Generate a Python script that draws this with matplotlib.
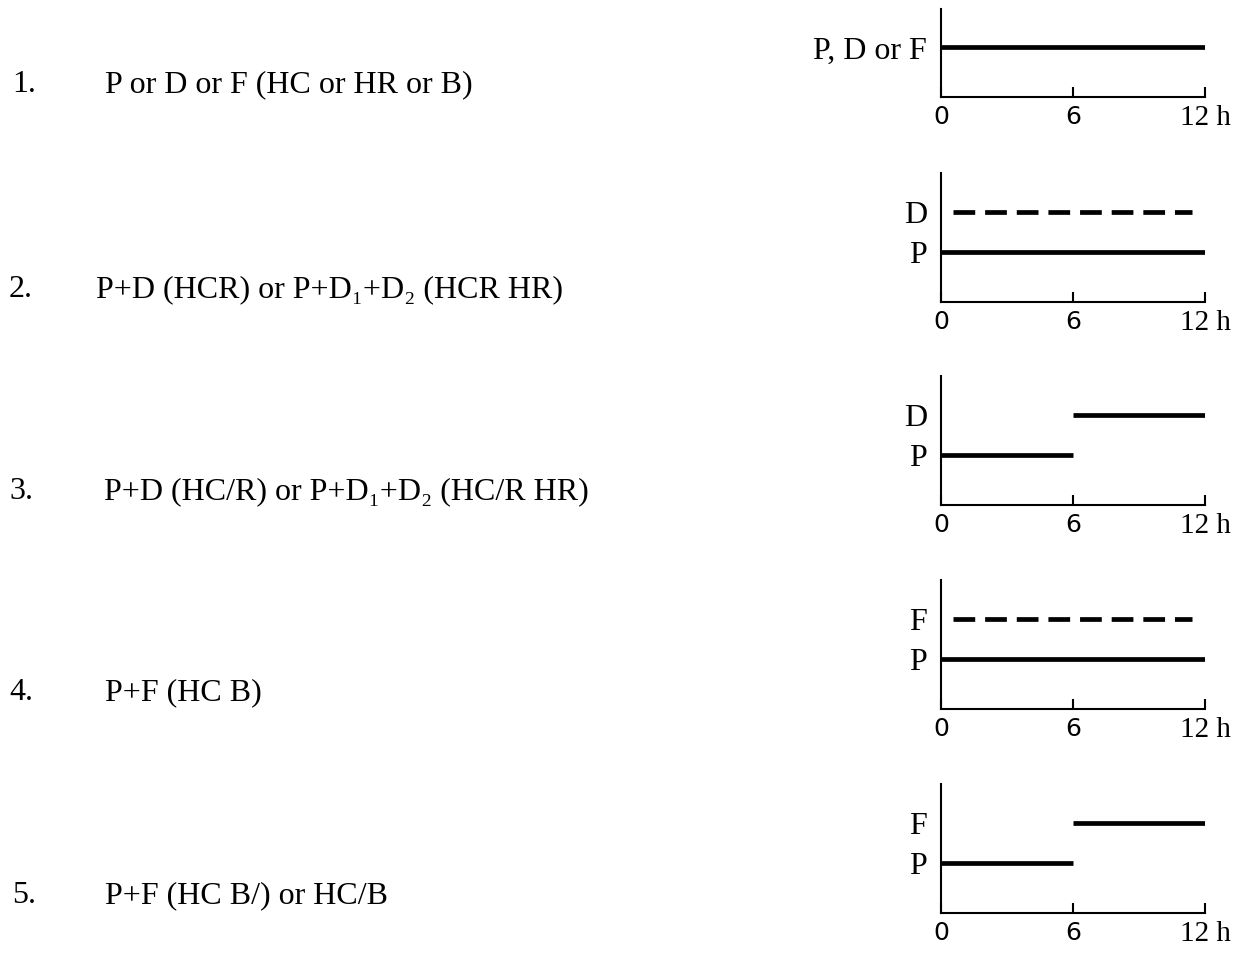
import matplotlib
matplotlib.use("Agg")
import matplotlib.pyplot as plt

plt.rcParams['font.family'] = ['Liberation Serif', 'DejaVu Serif']

# row descriptions on the left
row_numbers = ["1.", "2.", "3.", "4.", "5."]
row_texts = [
    "P or D or F (HC or HR or B)",
    "P+D (HCR) or P+D\u2081+D\u2082 (HCR HR)",
    "P+D (HC/R) or P+D\u2081+D\u2082 (HC/R HR)",
    "P+F (HC B)",
    "P+F (HC B/) or HC/B",
]

# time axis (hours)
x_ticks = [0, 6, 12]
x_ticklabels = ["0", "6", "12 h"]

# level of each substance line (fraction of panel height)
level_low = 0.384
level_high = 0.70
panel_ylabels = [["P, D or F"], ["P", "D"], ["P", "D"], ["P", "F"], ["P", "F"]]
panel_levels = [[level_low], [level_low, level_high], [level_low, level_high],
                [level_low, level_high], [level_low, level_high]]

# segments per panel: start hour, end hour, level, dashed?
seg_start = [[0], [0, 0.55], [0, 6], [0, 0.55], [0, 6]]
seg_end = [[12], [12, 11.4], [6, 12], [12, 11.4], [6, 12]]
seg_level = [[level_low], [level_low, level_high], [level_low, level_high],
             [level_low, level_high], [level_low, level_high]]
seg_dashed = [[False], [False, True], [False, False], [False, True], [False, False]]

W, H = 1246, 956
fig = plt.figure(figsize=(W / 100, H / 100), dpi=100)

# layout in pixels
text_base = [92, 297, 499, 700, 903]
num_x = [12, 9, 9, 9, 12]
txt_x = [105, 96, 104, 105, 105]
axis_y = [97, 302, 505, 709, 913]
panel_h = [88, 129, 129, 129, 129]
ax_left, ax_w = 941, 264

for i in range(5):
    fig.text(num_x[i] / W, 1 - text_base[i] / H, row_numbers[i],
             fontsize=23, va='baseline', ha='left')
    fig.text(txt_x[i] / W, 1 - text_base[i] / H, row_texts[i],
             fontsize=23, va='baseline', ha='left')

    ax = fig.add_axes([ax_left / W, 1 - axis_y[i] / H, ax_w / W, panel_h[i] / H])
    ax.set_xlim(0, 12)
    ax.set_ylim(0, panel_h[i] / 129)
    for s in ['top', 'right']:
        ax.spines[s].set_visible(False)
    for s in ['left', 'bottom']:
        ax.spines[s].set_linewidth(1.5)

    for x0, x1, lv, dashed in zip(seg_start[i], seg_end[i], seg_level[i], seg_dashed[i]):
        if dashed:
            ax.plot([x0, x1], [lv, lv], color='black', lw=3.4,
                    dashes=(4.6, 2.1), solid_capstyle='butt', dash_capstyle='butt')
        else:
            ax.plot([x0, x1], [lv, lv], color='black', lw=3.4, solid_capstyle='butt')

    ax.set_xticks(x_ticks)
    ax.set_xticklabels(x_ticklabels)
    ax.tick_params(axis='x', direction='in', length=7, width=1.5, pad=6)
    for lbl in ax.get_xticklabels():
        if lbl.get_text() == "12 h":
            lbl.set_fontfamily('Liberation Serif')
            lbl.set_fontsize(21)
        else:
            lbl.set_fontfamily('DejaVu Sans')
            lbl.set_fontsize(18)

    ax.set_yticks(panel_levels[i])
    ax.set_yticklabels(panel_ylabels[i], fontsize=23)
    ax.tick_params(axis='y', length=0, pad=10)

fig.savefig("out.png", dpi=100)
